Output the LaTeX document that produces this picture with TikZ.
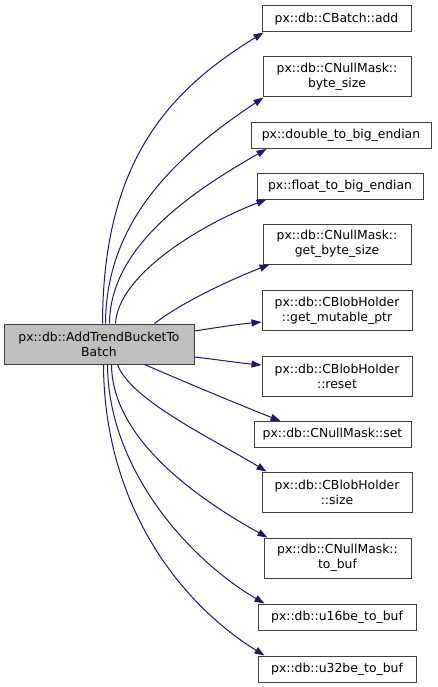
\documentclass[tikz,border=0pt]{standalone}
\usepackage{fontspec}
\setmainfont{DejaVu Sans}
\usetikzlibrary{arrows.meta,calc}
\definecolor{edgecol}{HTML}{191970}
\definecolor{bordercol}{HTML}{404040}
\definecolor{mainfill}{HTML}{BFBFBF}
\begin{document}
\begin{tikzpicture}[x=1pt,y=-1pt,
  box/.style={draw=bordercol, line width=1pt, fill=white, inner sep=0pt, align=center,
    font=\fontsize{12.4}{15}\selectfont, text=black},
  one/.style={box, minimum height=26pt},
  two/.style={box, minimum height=40pt},
  edge/.style={draw=edgecol, line width=1pt, -{Triangle[length=10pt,width=7pt]}}]
\useasboundingbox (0,0) rectangle (437,687);

\node[two, fill=mainfill, minimum width=190pt] (main) at (99,344) {px::db::AddTrendBucketTo\\Batch};

\node[one, minimum width=149pt] (add)  at (336.5,19)  {px::db::CBatch::add};
\node[two, minimum width=148pt] (bsize) at (337,77)   {px::db::CNullMask::\\byte\_size};
\node[one, minimum width=180pt] (dbl)  at (341,135.5) {px::double\_to\_big\_endian};
\node[one, minimum width=166pt] (flt)  at (340,186)   {px::float\_to\_big\_endian};
\node[two, minimum width=148pt] (gbs)  at (337,244)   {px::db::CNullMask::\\get\_byte\_size};
\node[two, minimum width=150pt] (gmp)  at (337,310.5) {px::db::CBlobHolder\\::get\_mutable\_ptr};
\node[two, minimum width=150pt] (rst)  at (337,376)   {px::db::CBlobHolder\\::reset};
\node[one, minimum width=157pt] (set)  at (332.5,434.5) {px::db::CNullMask::set};
\node[two, minimum width=150pt] (sz)   at (337,492)   {px::db::CBlobHolder\\::size};
\node[two, minimum width=147pt] (tb)   at (337.5,558) {px::db::CNullMask::\\to\_buf};
\node[one, minimum width=158pt] (u16)  at (337,617)   {px::db::u16be\_to\_buf};
\node[one, minimum width=158pt] (u32)  at (337,669)   {px::db::u32be\_to\_buf};

% upward edges
\draw[edge] ($(main.north west)+(99,0)$) .. controls (103,160) and (170,90) .. ($(add.south west)+(2,0)$);
\draw[edge] ($(main.north west)+(102,0)$) .. controls (106,215) and (185,150) .. ($(bsize.south west)+(1,0)$);
\draw[edge] ($(main.north west)+(106,0)$) .. controls (110,245) and (195,190) .. ($(dbl.south west)+(16,0)$);
\draw[edge] ($(main.north west)+(112,0)$) .. controls (118,275) and (200,225) .. ($(flt.south west)+(10,0)$);
\draw[edge] ($(main.north west)+(151,0)$) .. controls (185,300) and (235,278) .. ($(gbs.south west)+(7,0)$);
% side edges
\draw[edge] ($(main.east)+(0,-13)$) .. controls (220,327) and (240,324) .. ($(gmp.west)+(0,11.5)$);
\draw[edge] ($(main.east)+(0,13)$) .. controls (220,360) and (240,363) .. ($(rst.west)+(0,-11)$);
% downward edges
\draw[edge] ($(main.south west)+(141,0)$) .. controls (180,380) and (240,405) .. ($(set.north west)+(27,0)$);
\draw[edge] ($(main.south west)+(114,0)$) .. controls (130,400) and (215,440) .. ($(sz.north west)+(5,0)$);
\draw[edge] ($(main.south west)+(108,0)$) .. controls (112,440) and (200,500) .. ($(tb.north west)+(4,0)$);
\draw[edge] ($(main.south west)+(104,0)$) .. controls (108,470) and (190,560) .. ($(u16.north west)+(7,0)$);
\draw[edge] ($(main.south west)+(100,0)$) .. controls (104,500) and (175,600) .. ($(u32.north west)+(7,0)$);
\end{tikzpicture}
\end{document}
